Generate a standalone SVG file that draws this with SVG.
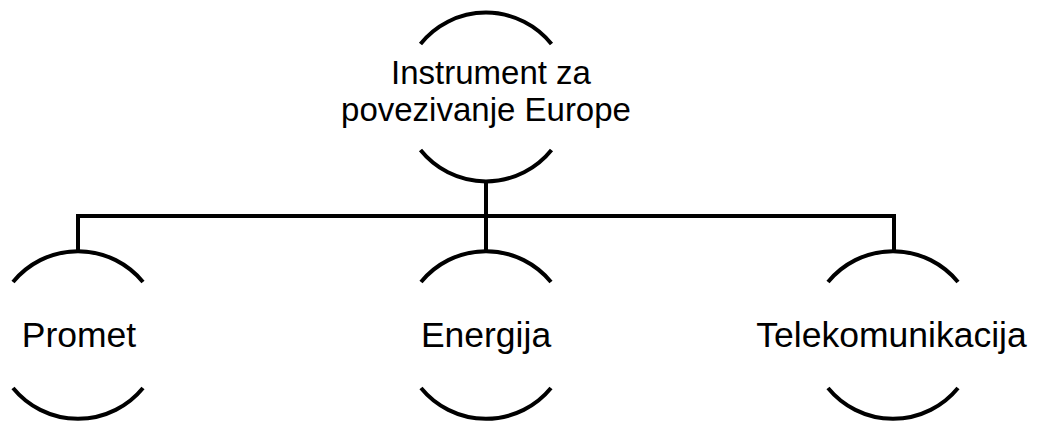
<svg xmlns="http://www.w3.org/2000/svg" width="1039" height="421" viewBox="0 0 1039 421">
<style>
.arc{fill:none;stroke:#000;stroke-width:4;}
.conn{fill:none;stroke:#000;stroke-width:4;stroke-linejoin:miter;}
.lbl{font-family:"Liberation Sans",Arial,sans-serif;font-size:35.5px;fill:#000;text-anchor:middle;}
.top{font-size:33px;}
</style>
<rect width="1039" height="421" fill="#fff"/>
<g id="connectors">
<path class="conn" d="M486,181 V216"/>
<path class="conn" d="M78,251 V216 H894 V251"/>
<path class="conn" d="M486,216 V251"/>
</g>
<g id="node-root">
<path class="arc" d="M420.5,44 A84,84 0 0 1 551.5,44"/>
<path class="arc" d="M420.5,150 A84,84 0 0 0 551.5,150"/>
<text class="lbl top"><tspan x="491" y="84">Instrument za</tspan><tspan x="486" y="121">povezivanje Europe</tspan></text>
</g>
<g id="node-promet">
<path class="arc" d="M13,282 A84,84 0 0 1 143,282"/>
<path class="arc" d="M13,388 A84,84 0 0 0 143,388"/>
<text class="lbl" x="79" y="347">Promet</text>
</g>
<g id="node-energija">
<path class="arc" d="M421,282 A84,84 0 0 1 551,282"/>
<path class="arc" d="M421,388 A84,84 0 0 0 551,388"/>
<text class="lbl" x="486" y="347">Energija</text>
</g>
<g id="node-telekomunikacija">
<path class="arc" d="M828,282 A84,84 0 0 1 958,282"/>
<path class="arc" d="M828,388 A84,84 0 0 0 958,388"/>
<text class="lbl" x="891.5" y="347">Telekomunikacija</text>
</g>
</svg>
